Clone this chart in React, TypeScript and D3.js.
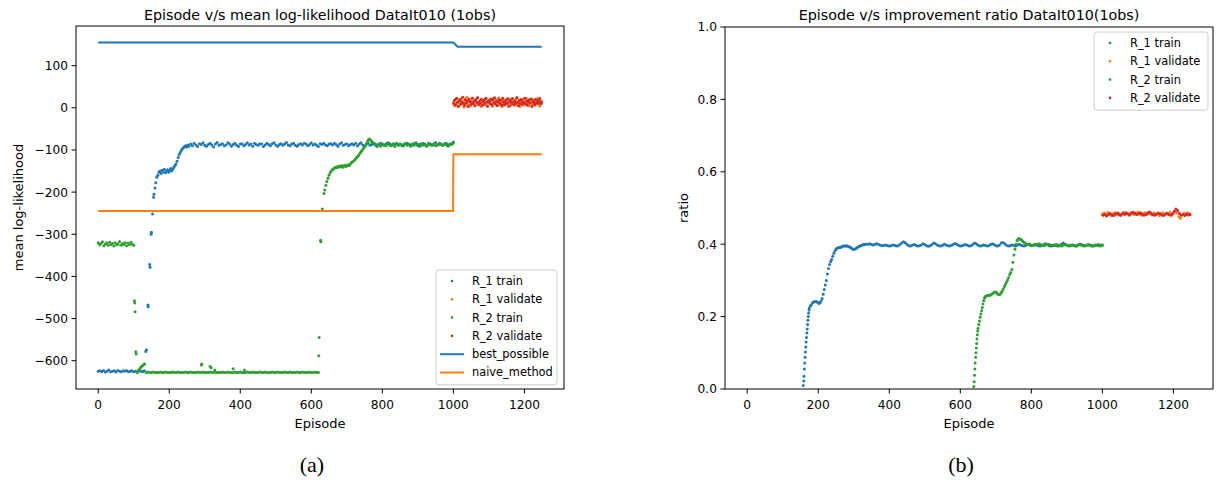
import React from 'react'
import * as d3 from 'd3'

type Pt = [number, number]

// episodes given as start + step
const seq = (start: number, step: number, vals: number[]): Pt[] => vals.map((v, i) => [start + i * step, v])

const xTicks = [0, 200, 400, 600, 800, 1000, 1200]
const llTicks = [-600, -500, -400, -300, -200, -100, 0, 100]
const ratioTicks = [0, 0.2, 0.4, 0.6, 0.8, 1.0]

// ---------- panel (a): mean log-likelihood ----------
const llR1TrainEarly = [-625, -624, -626, -623, -627, -625, -622, -626, -625, -624, -627, -623, -625, -626, -624, -625, -623, -626, -625, -624, -626, -625, -627, -624, -625, -626]
const llR1TrainRise: Pt[] = [[130, -624], [134, -578], [136, -574], [140, -468], [141, -472], [145, -372], [146, -378], [149, -300], [150, -295], [153, -252], [156, -212], [157, -205], [160, -190], [162, -178], [165, -165], [168, -160], [171, -153], [174, -150], [177, -156], [180, -148], [183, -152], [186, -146], [189, -154], [192, -150], [195, -147], [198, -153], [201, -149], [204, -144], [207, -150], [210, -146], [213, -141], [216, -137], [219, -133], [222, -127], [225, -118], [228, -111], [231, -106], [234, -101], [237, -97], [240, -95], [243, -92], [246, -90], [249, -93], [252, -88], [255, -91]]
const llR1TrainPlateau = [
  -86, -90, -84, -88, -92, -85, -87, -83, -89, -91,
  -87, -84, -88, -93, -86, -82, -89, -87, -85, -90,
  -88, -83, -86, -91, -87, -84, -89, -92, -86, -85,
  -90, -87, -83, -88, -86, -91, -84, -87, -89, -85,
  -86, -92, -88, -84, -87, -90, -85, -83, -88, -91,
  -87, -85, -89, -86, -82, -88, -90, -86, -84, -89,
  -91, -87, -85, -88, -84, -86, -90, -87, -83, -88,
  -86, -89, -92, -85, -87, -84, -88, -90, -86, -85,
  -88, -84, -87, -91, -86, -83, -89, -87, -85, -90,
  -87, -85, -88, -84, -90, -86, -83, -88, -91, -86,
  -84, -89, -87, -85, -88, -92, -86, -84, -87, -89,
  -86, -83, -88, -90, -85, -87, -84, -89, -86, -88,
  -90, -86, -84, -87, -89, -85, -88, -83, -87, -91,
  -85, -88, -86, -90, -84, -87, -89, -86, -82, -88,
  -87, -85, -89, -86, -84, -88, -87, -85, -81]

const llR2TrainEarly = [-320, -325, -322, -318, -327, -323, -321, -326, -319, -324, -322, -328, -320, -325, -323, -317, -326, -322, -324, -320, -327, -321, -325, -319, -323, -326]
const llR2TrainDrop: Pt[] = [[102, -458], [103, -463], [104, -484], [106, -579], [107, -584], [110, -628], [113, -623], [116, -620], [119, -617], [122, -614], [125, -612], [128, -609], [131, -608]]
const llR2TrainFlat = [
  -628, -627, -628, -628, -627, -628, -628, -628, -627, -628,
  -628, -627, -628, -628, -628, -627, -628, -628, -627, -628,
  -628, -628, -627, -628, -628, -627, -628, -628, -628, -627,
  -628, -628, -627, -628, -628, -628, -627, -628, -628, -627,
  -628, -628, -628, -627, -628, -628, -627, -628, -628, -628,
  -627, -628, -628, -627, -628, -628, -628, -627, -628, -628,
  -627, -628, -628, -628, -627, -628, -628, -627, -628, -628,
  -628, -627, -628, -628, -627, -628, -628, -628, -627, -628,
  -628, -627, -628, -628, -628, -627, -628, -628, -627, -628,
  -628, -628, -627, -628, -628, -627, -628, -628]
const llR2TrainOutliers: Pt[] = [[290, -610], [292, -608], [315, -614], [318, -617], [328, -622], [380, -619], [412, -622]]
const llR2TrainRecover: Pt[] = [[621, -588], [622, -545], [626, -314], [627, -318], [631, -240], [636, -203], [638, -195], [641, -184], [644, -175], [647, -167], [650, -160], [653, -154], [656, -150], [659, -147], [662, -145], [665, -143], [668, -141], [671, -142], [674, -139], [677, -141], [680, -138], [683, -140], [686, -137], [689, -141], [692, -138], [695, -136], [698, -139], [701, -137], [704, -135], [707, -137], [710, -133], [713, -130], [716, -128], [719, -126], [722, -124], [725, -121], [728, -118], [731, -115], [734, -112], [737, -108], [740, -104], [743, -101], [746, -97], [749, -94], [752, -90], [755, -85], [758, -80], [761, -76], [764, -74], [767, -77], [770, -80], [773, -82], [776, -84]]
const llR2TrainPlateau = [-86, -89, -87, -91, -85, -88, -90, -86, -84, -89, -87, -92, -85, -88, -86, -90, -87, -84, -89, -86, -91, -88, -85, -87, -90, -86, -89, -84, -88, -91, -87, -85, -89, -86, -90, -88, -84, -87, -89, -85, -88, -91, -86, -87, -84]

const llR1Validate = [
  14, 5, 19, 9, 23, 12, 3, 17, 8, 21,
  11, 15, 2, 20, 10, 25, 7, 13, 18, 4,
  16, 22, 9, 12, 6, 19, 14, 24, 8, 11,
  17, 3, 21, 13, 7, 18, 10, 23, 5, 15,
  12, 20, 9, 16, 4, 22, 11, 14, 19, 6,
  13, 24, 8, 17, 10, 3, 20, 15, 7, 12,
  18, 9, 22, 14, 5, 16, 11, 21, 8, 13,
  19, 6, 24, 10, 15, 3, 17, 12, 20, 7,
  14, 9, 23, 11, 18, 5, 16, 13, 21, 8,
  12, 19, 6, 15, 10, 22, 14, 4, 17, 11]
const llR2Validate = [
  10, 18, 7, 22, 13, 4, 16, 20, 9, 14,
  25, 11, 6, 19, 12, 17, 3, 21, 15, 8,
  13, 23, 10, 16, 5, 19, 12, 24, 8, 15,
  11, 20, 6, 14, 18, 9, 22, 13, 4, 17,
  15, 10, 21, 7, 19, 12, 24, 9, 16, 5,
  14, 20, 11, 18, 6, 23, 13, 8, 17, 10,
  21, 12, 4, 19, 15, 9, 22, 14, 7, 16,
  11, 24, 13, 5, 18, 10, 20, 8, 15, 12,
  23, 9, 17, 6, 14, 19, 11, 21, 3, 16,
  13, 8, 20, 12, 18, 10, 15, 22, 9, 14]

const bestPossible: Pt[] = [[0, 155], [1000, 155], [1012, 145], [1249, 145]]
const naiveMethod: Pt[] = [[0, -245], [999, -245], [1000, -110], [1249, -110]]

// ---------- panel (b): improvement ratio ----------
const ratioR1TrainRise: Pt[] = [[158, 0.010], [159, 0.022], [160, 0.035], [161, 0.055], [162, 0.072], [163, 0.088], [164, 0.102], [165, 0.116], [166, 0.130], [167, 0.142], [168, 0.155], [169, 0.166], [170, 0.178], [171, 0.190], [172, 0.200], [173, 0.210], [174, 0.218], [175, 0.224], [178, 0.229], [181, 0.233], [184, 0.238], [187, 0.240], [190, 0.241], [193, 0.242], [196, 0.241], [199, 0.239], [202, 0.236], [205, 0.238], [208, 0.243], [211, 0.250], [214, 0.262], [217, 0.275], [220, 0.287], [223, 0.300], [226, 0.318], [229, 0.333], [232, 0.344], [235, 0.352], [238, 0.358], [241, 0.367], [244, 0.375], [247, 0.381], [250, 0.386], [253, 0.389], [256, 0.390], [259, 0.391], [262, 0.391], [265, 0.392], [268, 0.394], [271, 0.395], [274, 0.395], [277, 0.395], [280, 0.396], [283, 0.394], [286, 0.393], [289, 0.392], [292, 0.390], [295, 0.388], [298, 0.386], [301, 0.386], [304, 0.387], [307, 0.389], [310, 0.391], [313, 0.393], [316, 0.394], [319, 0.396], [322, 0.397], [325, 0.398], [328, 0.399], [331, 0.399], [334, 0.400]]
const ratioR1TrainPlateau = [
  0.400, 0.401, 0.399, 0.398, 0.400, 0.401, 0.399, 0.397, 0.396, 0.397,
  0.398, 0.396, 0.395, 0.396, 0.398, 0.397, 0.395, 0.396, 0.399, 0.403,
  0.407, 0.404, 0.399, 0.396, 0.395, 0.397, 0.399, 0.397, 0.395, 0.396,
  0.398, 0.401, 0.399, 0.396, 0.394, 0.396, 0.399, 0.403, 0.401, 0.398,
  0.396, 0.395, 0.397, 0.400, 0.398, 0.396, 0.395, 0.397, 0.399, 0.402,
  0.400, 0.397, 0.395, 0.396, 0.398, 0.399, 0.397, 0.395, 0.396, 0.399,
  0.403, 0.401, 0.397, 0.395, 0.396, 0.398, 0.397, 0.395, 0.396, 0.399,
  0.401, 0.399, 0.396, 0.395, 0.397, 0.403, 0.405, 0.401, 0.397, 0.395,
  0.396, 0.398, 0.397, 0.395, 0.397, 0.400, 0.398, 0.396, 0.395, 0.397,
  0.399, 0.398, 0.396, 0.397, 0.400, 0.398, 0.396, 0.395, 0.397, 0.399,
  0.401, 0.399, 0.396, 0.395, 0.397, 0.398, 0.396, 0.395, 0.397, 0.400,
  0.403, 0.400, 0.397, 0.395, 0.396, 0.398, 0.397, 0.395, 0.396, 0.399,
  0.400, 0.398, 0.396, 0.397, 0.399, 0.398, 0.396, 0.395, 0.397, 0.398,
  0.399, 0.397, 0.398]

const ratioR2TrainRise: Pt[] = [[638, 0.007], [639, 0.020], [640, 0.038], [641, 0.055], [642, 0.072], [643, 0.088], [644, 0.100], [645, 0.113], [646, 0.126], [647, 0.138], [648, 0.150], [649, 0.160], [650, 0.168], [652, 0.178], [654, 0.188], [656, 0.198], [658, 0.207], [660, 0.216], [662, 0.225], [664, 0.235], [666, 0.244], [668, 0.251], [670, 0.255], [673, 0.257], [676, 0.258], [679, 0.258], [682, 0.259], [685, 0.260], [688, 0.262], [691, 0.264], [694, 0.266], [697, 0.268], [700, 0.268], [703, 0.265], [706, 0.262], [709, 0.261], [712, 0.262], [715, 0.266], [718, 0.270], [721, 0.276], [724, 0.283], [727, 0.289], [730, 0.295], [733, 0.301], [736, 0.308], [739, 0.316], [742, 0.322], [745, 0.330], [748, 0.350], [751, 0.370], [754, 0.386], [757, 0.400], [760, 0.410], [763, 0.415], [766, 0.415], [769, 0.414], [772, 0.412], [775, 0.409], [778, 0.406], [781, 0.404], [784, 0.402], [787, 0.400]]
const ratioR2TrainPlateau = [0.399, 0.400, 0.398, 0.397, 0.398, 0.399, 0.401, 0.399, 0.397, 0.396, 0.398, 0.400, 0.399, 0.397, 0.396, 0.397, 0.399, 0.398, 0.396, 0.395, 0.397, 0.399, 0.398, 0.396, 0.397, 0.398, 0.396, 0.395, 0.397, 0.399, 0.398, 0.396, 0.395, 0.397, 0.398, 0.397, 0.395, 0.396, 0.398, 0.397, 0.396, 0.395, 0.397]

const ratioR1Validate = [0.483, 0.486, 0.481, 0.488, 0.484, 0.479, 0.485, 0.487, 0.482, 0.486, 0.480, 0.484, 0.488, 0.483, 0.485, 0.481, 0.487, 0.484, 0.482, 0.486, 0.489, 0.483, 0.480, 0.485, 0.487, 0.482, 0.484, 0.488, 0.481, 0.486, 0.483, 0.485, 0.479, 0.484, 0.487, 0.482, 0.486, 0.483, 0.488, 0.481, 0.485, 0.490, 0.486, 0.476, 0.472, 0.481, 0.486, 0.483, 0.487, 0.484]
const ratioR2Validate = [0.480, 0.483, 0.478, 0.482, 0.485, 0.481, 0.479, 0.484, 0.486, 0.482, 0.480, 0.485, 0.483, 0.487, 0.484, 0.481, 0.486, 0.488, 0.485, 0.482, 0.484, 0.487, 0.483, 0.480, 0.482, 0.486, 0.489, 0.485, 0.482, 0.480, 0.483, 0.486, 0.484, 0.481, 0.479, 0.483, 0.485, 0.482, 0.480, 0.484, 0.491, 0.497, 0.493, 0.485, 0.480, 0.482, 0.479, 0.483, 0.481, 0.482]

const BLUE = '#1f77b4', ORANGE = '#ff7f0e', GREEN = '#2ca02c', RED = '#d62728'
const FONT = '"DejaVu Sans", sans-serif'
const xDomain: [number, number] = [-62.45, 1311.45]

type Series = { name: string, color: string, pts: Pt[], kind: 'dot' | 'line' }

const llSeries: Series[] = [
  { name: 'R_1 train', color: BLUE, kind: 'dot', pts: [...seq(0, 5, llR1TrainEarly), ...llR1TrainRise, ...seq(260, 5, llR1TrainPlateau)] },
  { name: 'R_1 validate', color: ORANGE, kind: 'dot', pts: seq(1000, 2.5, llR1Validate) },
  { name: 'R_2 train', color: GREEN, kind: 'dot', pts: [...seq(0, 4, llR2TrainEarly), ...llR2TrainDrop, ...seq(135, 5, llR2TrainFlat), ...llR2TrainOutliers, ...llR2TrainRecover, ...seq(780, 5, llR2TrainPlateau)] },
  { name: 'R_2 validate', color: RED, kind: 'dot', pts: seq(1001, 2.5, llR2Validate) },
  { name: 'best_possible', color: BLUE, kind: 'line', pts: bestPossible },
  { name: 'naive_method', color: ORANGE, kind: 'line', pts: naiveMethod },
]

const ratioSeries: Series[] = [
  { name: 'R_1 train', color: BLUE, kind: 'dot', pts: [...ratioR1TrainRise, ...seq(340, 5, ratioR1TrainPlateau)] },
  { name: 'R_1 validate', color: ORANGE, kind: 'dot', pts: seq(1000, 5, ratioR1Validate) },
  { name: 'R_2 train', color: GREEN, kind: 'dot', pts: [...ratioR2TrainRise, ...seq(790, 5, ratioR2TrainPlateau)] },
  { name: 'R_2 validate', color: RED, kind: 'dot', pts: seq(1002, 5, ratioR2Validate) },
]

const llExtent = d3.extent(llSeries.flatMap(s => s.pts.map(p => p[1]))) as [number, number]
const llPad = (llExtent[1] - llExtent[0]) * 0.05

type Box = { left: number, right: number, top: number, bottom: number }

const Panel = ({ id, box, yDomain, yTicks, yFmt, title, yLabel, yLabelX, series, legendAt, caption }: {
  id: string, box: Box, yDomain: [number, number], yTicks: number[], yFmt: (d: number) => string,
  title: string, yLabel: string, yLabelX: number, series: Series[], legendAt: { x: number, y: number, w: number }, caption: string
}) => {
  const x = d3.scaleLinear().domain(xDomain).range([box.left, box.right])
  const y = d3.scaleLinear().domain(yDomain).range([box.bottom, box.top])
  const line = d3.line<Pt>().x(d => x(d[0])).y(d => y(d[1]))
  const cx = (box.left + box.right) / 2
  const cy = (box.top + box.bottom) / 2
  const rowH = 18.3
  const legH = series.length * rowH + 5
  return (
    <g fontFamily={FONT} fill="#000">
      <defs>
        <clipPath id={id}><rect x={box.left} y={box.top} width={box.right - box.left} height={box.bottom - box.top} /></clipPath>
      </defs>
      <g clipPath={`url(#${id})`}>
        {series.filter(s => s.kind === 'dot').map(s => (
          <g key={s.name} fill={s.color}>
            {s.pts.map((p, i) => <circle key={i} cx={x(p[0])} cy={y(p[1])} r={1.5} />)}
          </g>
        ))}
        {series.filter(s => s.kind === 'line').map(s => (
          <path key={s.name} d={line(s.pts) || ''} fill="none" stroke={s.color} strokeWidth={2} />
        ))}
      </g>
      <rect x={box.left} y={box.top} width={box.right - box.left} height={box.bottom - box.top} fill="none" stroke="#000" strokeWidth={1} />
      {xTicks.map(t => (
        <g key={t}>
          <line x1={x(t)} x2={x(t)} y1={box.bottom} y2={box.bottom + 4.5} stroke="#000" />
          <text x={x(t)} y={box.bottom + 20} fontSize={12.2} textAnchor="middle">{t}</text>
        </g>
      ))}
      {yTicks.map(t => (
        <g key={t}>
          <line x1={box.left - 4.5} x2={box.left} y1={y(t)} y2={y(t)} stroke="#000" />
          <text x={box.left - 8} y={y(t)} dy="0.36em" fontSize={12.2} textAnchor="end">{yFmt(t)}</text>
        </g>
      ))}
      <text x={cx} y={20} fontSize={14.3} textAnchor="middle">{title}</text>
      <text x={cx} y={428} fontSize={13} textAnchor="middle">Episode</text>
      <text transform={`translate(${yLabelX},${cy}) rotate(-90)`} fontSize={13} textAnchor="middle">{yLabel}</text>
      <g>
        <rect x={legendAt.x} y={legendAt.y} width={legendAt.w} height={legH} rx={3} fill="#fff" fillOpacity={0.8} stroke="#cccccc" />
        {series.map((s, i) => {
          const ry = legendAt.y + 11 + i * rowH
          return (
            <g key={s.name}>
              {s.kind === 'dot'
                ? <circle cx={legendAt.x + 16} cy={ry} r={1.3} fill={s.color} />
                : <line x1={legendAt.x + 4} x2={legendAt.x + 28} y1={ry} y2={ry} stroke={s.color} strokeWidth={2} />}
              <text x={legendAt.x + 36} y={ry} dy="0.35em" fontSize={11.4}>{s.name}</text>
            </g>
          )
        })}
      </g>
      <text x={cx - 8} y={472} fontSize={22} textAnchor="middle" fontFamily='"Liberation Serif", serif'>{caption}</text>
    </g>
  )
}

export default function App() {
  return (
    <svg width={1217} height={484} style={{ position: 'absolute', left: 0, top: 0, background: '#fff' }}>
      <rect width={1217} height={484} fill="#fff" />
      <Panel id="clipA" box={{ left: 76, right: 564, top: 26, bottom: 389 }}
        yDomain={[llExtent[0] - llPad, llExtent[1] + llPad]} yTicks={llTicks}
        yFmt={d => (d < 0 ? '\u2212' + Math.abs(d) : String(d))}
        title="Episode v/s mean log-likelihood DataIt010 (1obs)" yLabel="mean log-likelihood" yLabelX={23}
        series={llSeries} legendAt={{ x: 436, y: 270, w: 121 }} caption="(a)" />
      <Panel id="clipB" box={{ left: 725, right: 1213, top: 27, bottom: 389 }}
        yDomain={[0, 1]} yTicks={ratioTicks} yFmt={d => d.toFixed(1)}
        title="Episode v/s improvement ratio DataIt010(1obs)" yLabel="ratio" yLabelX={688}
        series={ratioSeries} legendAt={{ x: 1094, y: 32, w: 114 }} caption="(b)" />
    </svg>
  )
}
